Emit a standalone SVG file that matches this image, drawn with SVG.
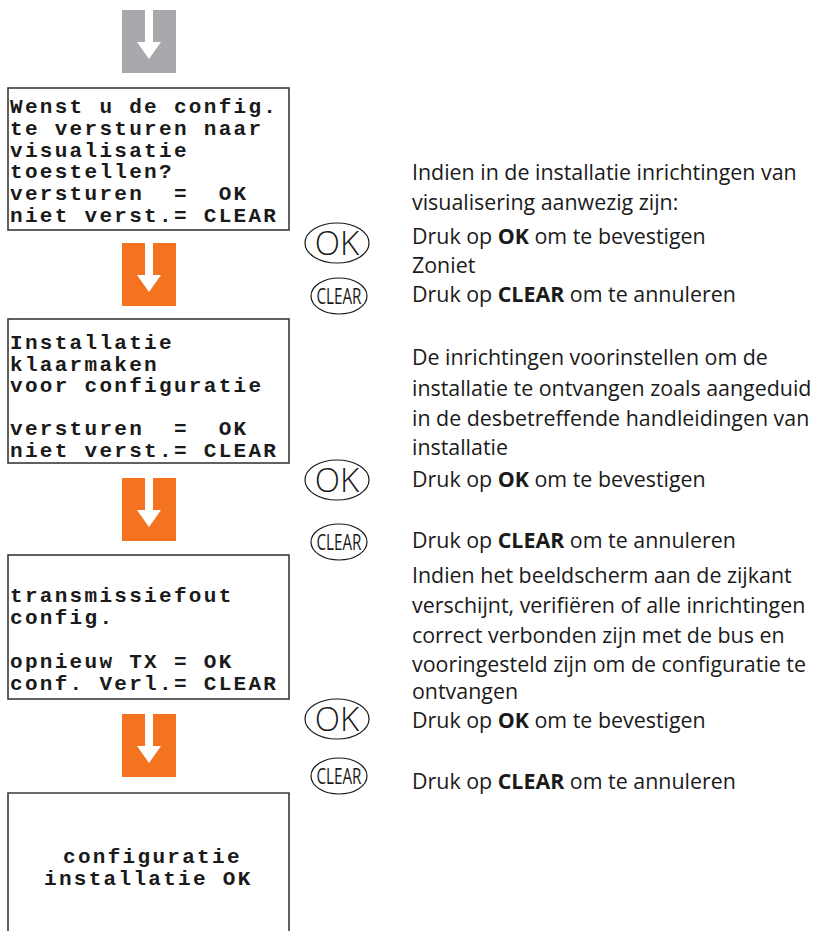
<svg xmlns="http://www.w3.org/2000/svg" width="817" height="931" viewBox="0 0 817 931">
<style>
.box{fill:#fff;stroke:#3a3a3a;stroke-width:1.6}
.mono{font-family:"Liberation Mono","DejaVu Sans Mono",monospace;font-weight:bold;font-size:21px;letter-spacing:2.3px;fill:#1a1a1a}
.txt{font-family:"Open Sans","Noto Sans",sans-serif;font-size:21.4px;fill:#1a1a1a}
.b{font-weight:bold}
.ico{fill:none;stroke:#1a1a1a;stroke-width:1.2}
.ok{font-family:"Open Sans","Liberation Sans",sans-serif;font-weight:300;font-size:33px;fill:#1a1a1a;text-anchor:middle}
.clr{font-family:"Open Sans","Liberation Sans",sans-serif;font-size:21px;fill:#1a1a1a}
</style>
<defs>
<path id="arw" d="M0,0 H54 V63 H0 Z M23,0 V32 H15 L27,49 L39,32 H31 V0 Z" fill-rule="evenodd"/>
<g id="okicon"><ellipse cx="0" cy="0" rx="32" ry="20" class="ico"/><text x="0" y="12" class="ok">OK</text></g>
<g id="clricon"><ellipse cx="0" cy="0" rx="28" ry="18" class="ico"/><text x="-22.5" y="7.5" class="clr" textLength="45" lengthAdjust="spacingAndGlyphs">CLEAR</text></g>
</defs>

<g id="connectors">
<use href="#arw" x="122" y="10" fill="#a7a9ac"/>
<use href="#arw" x="122" y="243" fill="#f47321"/>
<use href="#arw" x="122" y="478" fill="#f47321"/>
<use href="#arw" x="122" y="714" fill="#f47321"/>
</g>

<g id="box1">
<rect class="box" x="8" y="88" width="281" height="142"/>
<text class="mono" x="10" y="113">Wenst u de config.</text>
<text class="mono" x="10" y="135">te versturen naar</text>
<text class="mono" x="10" y="157">visualisatie</text>
<text class="mono" x="10" y="178">toestellen?</text>
<text class="mono" x="10" y="200" xml:space="preserve">versturen  =  OK</text>
<text class="mono" x="10" y="222">niet verst.= CLEAR</text>
</g>

<g id="box2">
<rect class="box" x="8" y="319" width="281" height="144"/>
<text class="mono" x="10" y="349">Installatie</text>
<text class="mono" x="10" y="371">klaarmaken</text>
<text class="mono" x="10" y="392">voor configuratie</text>
<text class="mono" x="10" y="435" xml:space="preserve">versturen  =  OK</text>
<text class="mono" x="10" y="457">niet verst.= CLEAR</text>
</g>

<g id="box3">
<rect class="box" x="8" y="555" width="281" height="144"/>
<text class="mono" x="10" y="602">transmissiefout</text>
<text class="mono" x="10" y="624">config.</text>
<text class="mono" x="10" y="668">opnieuw TX = OK</text>
<text class="mono" x="10" y="690">conf. Verl.= CLEAR</text>
</g>

<g id="box4">
<path class="box" d="M8,940 V793 H289 V940"/>
<text class="mono" x="63" y="863">configuratie</text>
<text class="mono" x="44" y="885">installatie OK</text>
</g>

<g id="step1">
<text class="txt" x="412" y="180">Indien in de installatie inrichtingen van</text>
<text class="txt" x="412" y="210">visualisering aanwezig zijn:</text>
<use href="#okicon" x="337" y="243"/>
<text class="txt" x="412" y="244">Druk op <tspan class="b">OK</tspan> om te bevestigen</text>
<text class="txt" x="412" y="273">Zoniet</text>
<use href="#clricon" x="339" y="296"/>
<text class="txt" x="412" y="302">Druk op <tspan class="b">CLEAR</tspan> om te annuleren</text>
</g>

<g id="step2">
<text class="txt" x="412" y="365">De inrichtingen voorinstellen om de</text>
<text class="txt" x="412" y="396">installatie te ontvangen zoals aangeduid</text>
<text class="txt" x="412" y="426">in de desbetreffende handleidingen van</text>
<text class="txt" x="412" y="455">installatie</text>
<use href="#okicon" x="337" y="480"/>
<text class="txt" x="412" y="487">Druk op <tspan class="b">OK</tspan> om te bevestigen</text>
<use href="#clricon" x="339" y="542"/>
<text class="txt" x="412" y="548">Druk op <tspan class="b">CLEAR</tspan> om te annuleren</text>
</g>

<g id="step3">
<text class="txt" x="412" y="583">Indien het beeldscherm aan de zijkant</text>
<text class="txt" x="412" y="613">verschijnt, verifiëren of alle inrichtingen</text>
<text class="txt" x="412" y="643">correct verbonden zijn met de bus en</text>
<text class="txt" x="412" y="672">vooringesteld zijn om de configuratie te</text>
<text class="txt" x="412" y="699">ontvangen</text>
<use href="#okicon" x="337" y="719"/>
<text class="txt" x="412" y="728">Druk op <tspan class="b">OK</tspan> om te bevestigen</text>
<use href="#clricon" x="339" y="776"/>
<text class="txt" x="412" y="789">Druk op <tspan class="b">CLEAR</tspan> om te annuleren</text>
</g>
</svg>
